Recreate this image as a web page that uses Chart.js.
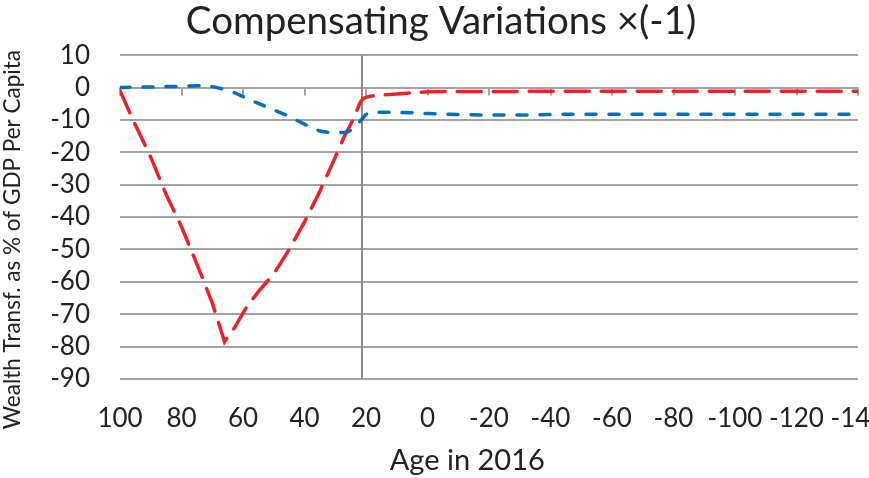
<!DOCTYPE html>
<html>
<head>
<meta charset="utf-8">
<script src="https://cdn.jsdelivr.net/npm/chart.js@4/dist/chart.umd.min.js"></script>
<style>
  html, body { margin: 0; padding: 0; background: #fff; }
  #wrap { width: 869px; height: 478px; }
</style>
</head>
<body>
<div id="wrap"><canvas id="myChart" width="869" height="478"></canvas></div>
<script>
// ages in 2016 (x axis runs from old to unborn)
let ages = [100, 96, 90, 85, 80, 75, 70, 66, 63, 59, 55, 50, 45, 40, 35, 30, 27, 24, 22, 21, 20, 18, 15, 10, 5, 0,
  -10, -20, -30, -40, -60, -80, -100, -120, -140];

// red long dash
let redValues = [-1, -9.5, -21.5, -33, -43, -54.5, -66.5, -78.5, -74.5, -68, -63, -57.5, -50, -41.5, -32, -21.5, -15, -9.5,
  -4.8, -3.4, -3, -2.6, -2.3, -2, -1.6, -1.3, -1.2, -1.2, -1.2, -1.1, -1.1, -1.1, -1.1, -1.1, -1.1];

// blue short dash
let blueValues = [0, 0.1, 0.2, 0.3, 0.4, 0.6, 0.3, -0.6, -1.5, -3.2, -4.9, -6.9, -8.9, -11.3, -13.4, -13.9, -13.9, -12.5,
  -10.5, -9.4, -8.3, -7.6, -7.6, -7.7, -7.8, -8, -8.3, -8.5, -8.5, -8.3, -8.2, -8.2, -8.2, -8.2, -8.2];

let yMin = -90;
let yMax = 10;
let crossAt = 21.3; // where the vertical axis crosses

const FONT = "Lato";
const GRID = "#a3a3a3";

function toPoints(values) {
  return ages.map((a, i) => ({ x: a, y: values[i] }));
}

// vertical axis line + small tick marks under the y=0 axis line
const axisLines = {
  id: "axisLines",
  beforeDatasetsDraw(chart) {
    let ctx = chart.ctx;
    let xs = chart.scales.x;
    let ys = chart.scales.y;
    let y0 = ys.getPixelForValue(0);
    ctx.save();
    ctx.lineWidth = 2;
    ctx.strokeStyle = GRID;
    xs.ticks.forEach((t) => {
      let px = Math.round(xs.getPixelForValue(t.value));
      ctx.beginPath();
      ctx.moveTo(px, y0);
      ctx.lineTo(px, y0 + 8);
      ctx.stroke();
    });
    let vx = Math.round(xs.getPixelForValue(crossAt));
    ctx.strokeStyle = "#8c8c8c";
    ctx.beginPath();
    ctx.moveTo(vx, ys.getPixelForValue(yMax));
    ctx.lineTo(vx, ys.getPixelForValue(yMin));
    ctx.stroke();
    ctx.restore();
  },
};

let ctx = document.getElementById("myChart").getContext("2d");

let myChart = new Chart(ctx, {
  type: "line",
  data: {
    datasets: [
      {
        label: "blue",
        data: toPoints(blueValues),
        borderColor: "#0070c0",
        borderWidth: 3.5,
        borderDash: [10, 13],
        borderCapStyle: "round",
        pointRadius: 0,
        cubicInterpolationMode: "monotone",
        fill: false,
      },
      {
        label: "red",
        data: toPoints(redValues),
        borderColor: "#ee2127",
        borderWidth: 3.5,
        borderDash: [24, 12],
        borderCapStyle: "round",
        pointRadius: 0,
        tension: 0,
        fill: false,
      },
    ],
  },
  options: {
    responsive: false,
    animation: false,
    layout: { padding: { left: 0, right: 11, top: 0, bottom: 0 } },
    plugins: {
      legend: { display: false },
      tooltip: { enabled: false },
      title: {
        display: true,
        text: "\u2002\u2009Compensating Variations \u00d7(-1)",
        color: "#222",
        font: { family: FONT, size: 38.5, weight: "normal" },
        padding: { top: -2, bottom: 11 },
      },
    },
    scales: {
      x: {
        type: "linear",
        reverse: true,
        min: -140,
        max: 100,
        afterFit(scale) {
          scale.height = 99;
          scale.paddingLeft = 0;
          scale.paddingRight = 0;
        },
        ticks: {
          stepSize: 20,
          autoSkip: false,
          maxRotation: 0,
          padding: 16,
          color: "#222",
          font: { family: FONT, size: 26 },
        },
        grid: { display: false },
        border: { display: false },
        title: {
          display: true,
          text: "Age in 2016\u2003\u2003",
          color: "#222",
          font: { family: FONT, size: 29 },
          padding: { top: 0, bottom: 0 },
        },
      },
      y: {
        min: yMin,
        max: yMax,
        afterFit(scale) {
          scale.width = 120;
        },
        ticks: {
          stepSize: 10,
          autoSkip: false,
          padding: 30,
          color: "#222",
          font: { family: FONT, size: 26 },
        },
        grid: {
          drawTicks: false,
          lineWidth: 2,
          color: GRID,
        },
        border: { display: false },
        title: {
          display: true,
          text: "Wealth Transf. as % of GDP Per Capita\u2003\u2003\u2002",
          color: "#222",
          font: { family: FONT, size: 22.5 },
          padding: { top: -1, bottom: 0 },
        },
      },
    },
  },
  plugins: [axisLines],
});
</script>
</body>
</html>
